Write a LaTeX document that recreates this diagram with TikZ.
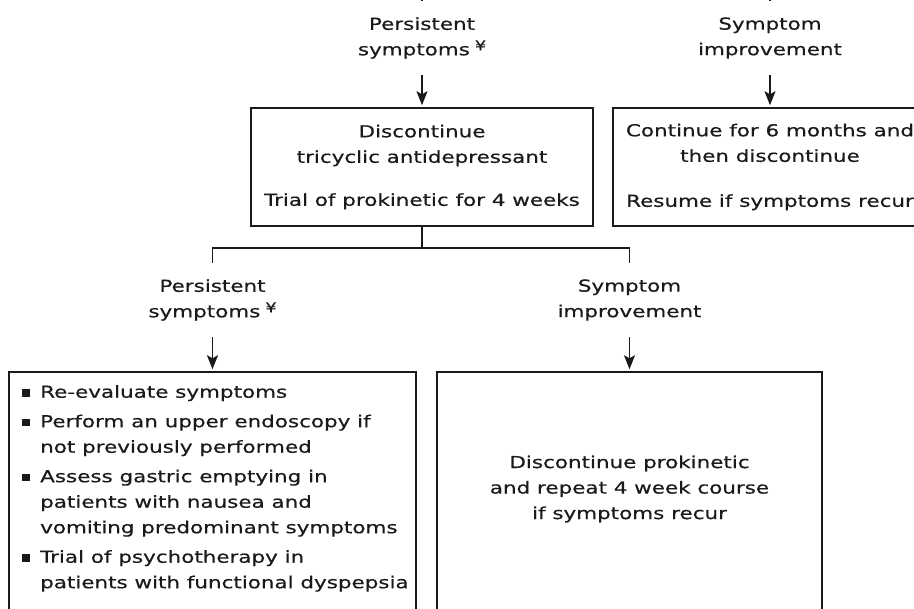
\documentclass[tikz,border=0pt]{standalone}
\usepackage{fontspec}
\setmainfont[FakeStretch=1.30,FakeBold=0.5]{DejaVu Sans}
\usetikzlibrary{arrows.meta}
\definecolor{ink}{HTML}{1A1A1A}
\newcommand{\bul}{\makebox[18pt][l]{\rule[0.8pt]{8pt}{7.5pt}}}
\newcommand{\ind}{\hspace*{18pt}}
\newcommand{\yen}{\hspace{5pt}\raisebox{5pt}{\fontsize{13.5}{13.5}\selectfont ¥}}

\begin{document}
\begin{tikzpicture}[x=1pt, y=-1pt,
  every node/.style={text=ink, font=\fontsize{16.5}{25.5}\selectfont},
  lbl/.style={align=center, inner xsep=0pt, inner ysep=16pt},
  box/.style={draw=ink, line width=1.5pt, align=center, inner sep=0pt},
  arr/.style={draw=ink, line width=1.6pt, -{Stealth[length=14pt,width=11pt,inset=3pt]}, shorten >=2pt},
  wire/.style={draw=ink, line width=1.4pt}]
\useasboundingbox (0,0) rectangle (914,609);

% outcome labels
\node[lbl] (p1) at (422,38)    {Persistent\\symptoms\yen};
\node[lbl] (s1) at (770,38)    {Symptom\\improvement};
\node[lbl] (p2) at (212.5,300) {Persistent\\symptoms\yen};
\node[lbl] (s2) at (629.5,300) {Symptom\\improvement};

% boxes
\node[box, minimum width=342pt, minimum height=118pt] (b1) at (422,167)
  {Discontinue\\tricyclic antidepressant\\[17.5pt]Trial of prokinetic for 4 weeks};
\node[box, minimum width=314pt, minimum height=118pt] (b2) at (770,167)
  {Continue for 6 months and\\then discontinue\\[19.5pt]Resume if symptoms recur};
\node[box, minimum width=407pt, minimum height=270pt] (b3) at (212.5,507) {};
\node[box, minimum width=385pt, minimum height=270pt] (b4) at (629.5,507) {};

% box texts
\node[anchor=north west, align=left, inner sep=0pt] (t3) at (22,385)
  {\bul Re-evaluate symptoms\\[4pt]
   \bul Perform an upper endoscopy if\\
   \ind not previously performed\\[4pt]
   \bul Assess gastric emptying in\\
   \ind patients with nausea and\\
   \ind vomiting predominant symptoms\\[4pt]
   \bul Trial of psychotherapy in\\
   \ind patients with functional dyspepsia};
\node[align=center, inner sep=0pt] (t4) at (629.5,489)
  {Discontinue prokinetic\\and repeat 4 week course\\if symptoms recur};

% connectors
\coordinate (up1) at (422,-20);
\coordinate (up2) at (770,-20);
\coordinate (j) at (422,248);
\draw[wire] (up1) -- (p1);
\draw[wire] (up2) -- (s1);
\draw[arr] (p1) -- (b1);
\draw[arr] (s1) -- (b2);
\draw[wire] (b1) -- (j);
\draw[wire] (p2) |- (j) -| (s2);
\draw[arr] (p2) -- (b3);
\draw[arr] (s2) -- (b4);
\end{tikzpicture}
\end{document}
